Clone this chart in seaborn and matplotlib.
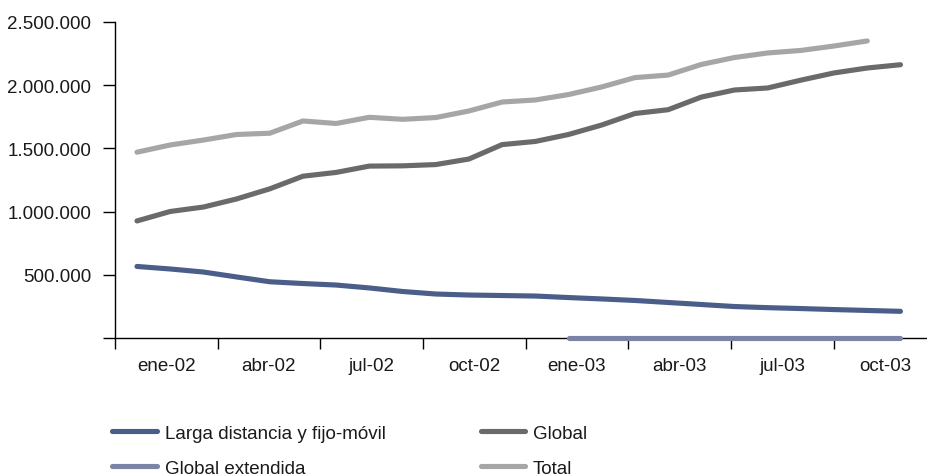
import numpy as np
import pandas as pd
import seaborn as sns
import matplotlib
matplotlib.use("Agg")
import matplotlib.pyplot as plt
from matplotlib.ticker import FuncFormatter, FixedLocator, NullFormatter
from matplotlib import font_manager

# Monthly line counts, Jan-2002 onwards (month index 0 = ene-02)
larga_distancia = [566000, 546000, 522000, 483000, 445000, 431000, 419000, 396000,
                   368000, 348000, 340000, 336000, 332000, 320000, 309000, 297000,
                   281000, 265000, 249000, 240000, 233000, 225000, 218000, 211000]
global_ = [926000, 1001000, 1036000, 1100000, 1180000, 1280000, 1310000, 1360000,
           1362000, 1372000, 1416000, 1530000, 1555000, 1610000, 1685000, 1776000,
           1806000, 1906000, 1962000, 1978000, 2040000, 2097000, 2136000, 2162000]
total = [1470000, 1527000, 1566000, 1610000, 1620000, 1717000, 1697000, 1746000,
         1730000, 1744000, 1796000, 1867000, 1883000, 1926000, 1986000, 2060000,
         2080000, 2164000, 2219000, 2255000, 2275000, 2310000, 2350000]
global_extendida_start = 13
global_extendida = [0] * 11

quarter_labels = ["ene-02", "abr-02", "jul-02", "oct-02",
                  "ene-03", "abr-03", "jul-03", "oct-03"]
series_names = ["Larga distancia y fijo-móvil", "Global extendida", "Global", "Total"]
y_ticks = [0, 500000, 1000000, 1500000, 2000000, 2500000]

colors = {
    "Larga distancia y fijo-móvil": "#4b5e89",
    "Global extendida": "#7b84a4",
    "Global": "#6a6a6a",
    "Total": "#a6a6a6",
}

rows = []
for i, v in enumerate(larga_distancia):
    rows.append((series_names[0], i, v))
for i, v in enumerate(global_extendida):
    rows.append((series_names[1], global_extendida_start + i, v))
for i, v in enumerate(global_):
    rows.append((series_names[2], i, v))
for i, v in enumerate(total):
    rows.append((series_names[3], i, v))
df = pd.DataFrame(rows, columns=["serie", "mes", "lineas"])

sns.set_style("ticks")
installed = {f.name for f in font_manager.fontManager.ttflist}
family = [f for f in ["Liberation Sans Narrow", "Liberation Sans", "DejaVu Sans"] if f in installed]
plt.rcParams["font.family"] = family

fig = plt.figure(figsize=(9.28, 4.77), dpi=100)
ax = fig.add_axes([0.1239, 0.2893, 0.8761, 0.6625])

sns.lineplot(data=df, x="mes", y="lineas", hue="serie", hue_order=series_names,
             palette=colors, linewidth=3.7, estimator=None, sort=False, ax=ax,
             legend=False)
for ln in ax.get_lines():
    ln.set_solid_capstyle("round")
    ln.set_solid_joinstyle("round")
    ln.set_clip_on(False)
    ln.set_zorder(4)

# x axis: quarter boundaries as tick marks, labels centred inside each quarter
x_left, q_step = -0.663, 3.093
ax.set_xlim(x_left, 23.83)
edges = x_left + q_step * np.arange(len(quarter_labels))
centres = edges + q_step / 2
ax.xaxis.set_major_locator(FixedLocator(edges))
ax.xaxis.set_major_formatter(NullFormatter())
ax.xaxis.set_minor_locator(FixedLocator(centres))
ax.set_xticklabels(quarter_labels, minor=True)
ax.tick_params(axis="x", which="major", length=8, width=1.0, color="black", direction="out")
ax.tick_params(axis="x", which="minor", length=0, pad=14, labelsize=13.5, labelcolor="#1a1a1a")

ax.set_ylim(0, 2500000)
ax.yaxis.set_major_locator(FixedLocator(y_ticks))
ax.yaxis.set_major_formatter(FuncFormatter(
    lambda v, p: "" if v == 0 else f"{v:,.0f}".replace(",", ".")))
ax.tick_params(axis="y", length=9, width=1.0, color="black", pad=8,
               labelsize=13.5, labelcolor="#1a1a1a")

ax.set_xlabel("")
ax.set_ylabel("")
sns.despine(ax=ax)
for side in ("left", "bottom"):
    ax.spines[side].set_linewidth(1.0)
    ax.spines[side].set_color("black")
    ax.spines[side].set_zorder(2.5)

handles = [plt.Line2D([], [], color=colors[n], linewidth=3.7, solid_capstyle="round")
           for n in series_names]
fig.legend(handles, series_names, ncol=2, loc="upper left",
           bbox_to_anchor=(0.103, 0.143), frameon=False, fontsize=13.5,
           handlelength=2.35, handletextpad=0.45, columnspacing=5.05,
           labelspacing=0.95, labelcolor="#1a1a1a")

fig.savefig("out.png", dpi=100)
